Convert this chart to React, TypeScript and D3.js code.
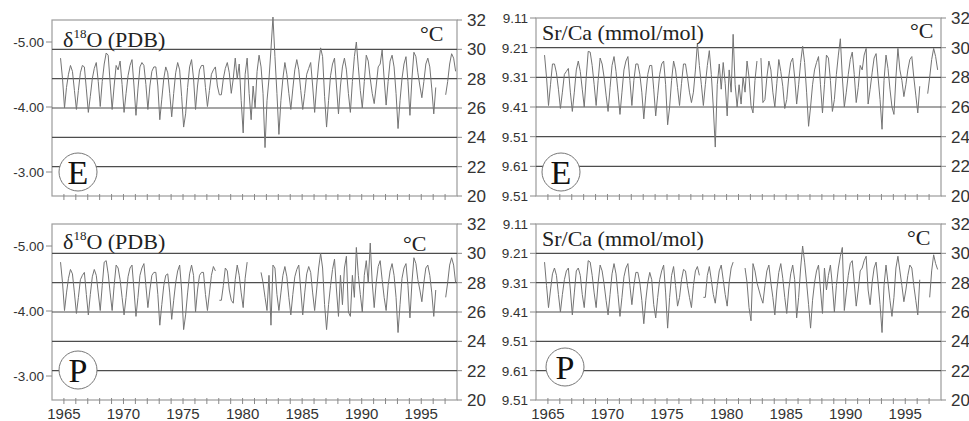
import React, { useEffect, useRef } from "react";
import * as d3 from "d3";

// axis labels
const yearTicks = [1965, 1970, 1975, 1980, 1985, 1990, 1995];
const tempTicks = [32, 30, 28, 26, 24, 22, 20];
const gridTemps = [30, 28, 26, 24, 22];
const d18oTicks = [-5, -4, -3];
const srTickValues = [9.11, 9.21, 9.31, 9.41, 9.51, 9.61, 9.71];
const srTickLabels = ["9.11", "9.21", "9.31", "9.41", "9.51", "9.61", "9.51"];

const firstYear = 1964;

const eD18O = [
  null, null, null, null, 29.4, 28.0,
  26.0, 27.4, 28.3, 28.9, 28.5, 27.2,
  25.9, 27.2, 28.4, 28.9, 28.8, 27.3,
  25.7, 26.8, 28.0, 28.7, 29.1, 27.8,
  26.1, 27.8, 29.0, 29.75, 29.6, 27.7,
  25.9, 27.5, 28.9, 28.6, 29.2, 27.6,
  25.7, 27.0, 28.2, 28.9, 29.3, 27.5,
  25.5, 27.3, 28.8, 29.1, 28.9, 27.6,
  25.9, 27.5, 28.5, 28.8, 28.8, 27.5,
  25.2, 26.6, 28.0, 28.8, 28.4, 27.0,
  25.4, 27.0, 28.4, 29.1, 28.6, 26.8,
  24.7, 25.6, 27.4, 28.8, 29.3, 28.0,
  25.9, 27.5, 28.6, 28.9, 28.9, 27.4,
  26.1, 27.2, 28.3, 28.6, 28.8, 27.5,
  26.9, 26.9, 28.0, 28.7, 29.1, 28.4,
  27.0, 28.0, 29.4, 28.0, 29.0, 26.5,
  24.3, 28.3, 29.4, 27.0, 25.2, 27.5,
  26.0, 28.5, 29.6, 28.8, 27.0, 23.3,
  26.5, 28.0, 30.0, 32.2, 29.5, 27.0,
  24.2, 26.5, 28.0, 29.1, 28.3, 27.0,
  25.9, 27.3, 28.6, 29.3, 28.6, 27.2,
  25.9, 27.0, 28.3, 28.7, 29.1, 27.5,
  25.7, 27.5, 29.0, 30.1, 29.5, 26.8,
  24.7, 26.5, 28.2, 29.0, 29.4, 27.5,
  25.6, 27.5, 28.8, 29.4, 28.6, 27.0,
  25.7, 27.8, 29.5, 30.5, 28.8, 27.2,
  26.0, 27.8, 29.6, 29.2, 28.0, 27.0,
  26.3, 27.5, 28.8, 29.0, 29.95, 28.0,
  26.2, 27.8, 29.2, 29.6, 28.8, 27.0,
  24.6, 26.5, 28.0, 29.0, 29.5, 27.8,
  25.5, 28.0, 29.8, 29.5, 28.4, 27.5,
  26.7, 27.8, 29.0, 29.4, 28.8, 27.3,
  25.6, 27.4, null, null, null, null,
  26.9, 27.8, 29.0, 29.7, 29.4, 28.5,
];

const eSrCa = [
  null, null, null, null, 29.5, 28.0,
  26.1, 27.5, 28.9, 28.9, 28.3, 27.2,
  25.9, 27.0, 28.2, 28.4, 28.6, 27.0,
  25.7, 27.0, 28.5, 29.1, 28.4, 27.2,
  26.0, 28.0, 29.75, 29.7, 28.8, 27.5,
  26.1, 27.8, 29.3, 28.9, 28.0, 26.8,
  25.7, 27.3, 28.8, 29.4, 28.4, 27.0,
  25.5, 27.0, 28.5, 29.1, 29.4, 27.8,
  26.1, 27.8, 28.9, 28.9, 28.2, 27.0,
  25.2, 26.8, 28.2, 28.8, 28.8, 27.2,
  25.4, 26.8, 28.2, 28.9, 29.1, 27.5,
  24.8, 26.0, 27.8, 29.1, 28.5, 27.3,
  26.1, 27.6, 28.9, 28.9, 28.0, 27.0,
  26.3, 27.0, 28.5, 30.3, 28.8, 27.5,
  26.1, 27.5, 28.8, 29.8, 28.2, 26.0,
  23.3, 27.5, 28.9, 27.2, 29.0, 27.6,
  25.4, 28.5, 27.0, 30.9, 27.5, 26.0,
  27.5, 26.2, 28.0, 27.0, 29.1, 28.0,
  26.1, 25.6, 27.8, 29.1, null, 29.3,
  26.3, 26.5, 28.0, 29.1, 28.5, 27.0,
  26.0, 27.6, 29.2, 28.4, 27.4, 25.9,
  26.5, 28.0, 29.0, 29.3, 28.0, 26.2,
  27.5, 29.0, 30.1, 29.0, 27.0, 24.7,
  26.0, 27.5, 28.5, 29.0, 29.4, 27.5,
  25.6, 27.5, 29.5, 29.3, 27.8, 25.7,
  26.5, 28.2, 29.5, 30.6, 28.0, 26.0,
  27.0, 28.2, 29.2, 29.7, 28.2, 26.3,
  27.3, 28.8, 28.5, 29.5, 29.95, 26.2,
  27.2, 28.3, 29.3, 29.6, 28.0, 26.5,
  24.5, 27.8, 29.5, 28.6, 27.2, 26.0,
  25.5, 28.0, 29.95, 28.5, 27.8, 26.7,
  27.5, 28.5, 29.2, 29.4, 28.0, 26.8,
  25.6, 27.4, null, null, null, 26.9,
  28.0, 29.2, 29.95, 29.4, 28.5, null,
];

const pD18O = [
  null, null, null, null, 29.4, 28.0,
  26.1, 27.3, 28.3, 28.9, 28.6, 27.3,
  25.9, 27.0, 28.2, 28.5, 28.7, 27.2,
  25.8, 27.2, 28.4, 28.9, 28.5, 27.3,
  26.1, 27.8, 29.4, 29.5, 28.6, 27.3,
  26.1, 27.8, 29.2, 29.0, 28.2, 27.0,
  25.8, 27.0, 28.4, 29.0, 29.2, 27.5,
  25.7, 27.0, 28.5, 29.0, 29.3, 27.8,
  26.3, 27.5, 28.5, 28.7, 28.7, 27.2,
  25.1, 26.5, 27.8, 28.5, 28.6, 27.3,
  25.5, 26.8, 28.0, 28.8, 29.2, 27.5,
  24.8, 25.8, 27.3, 28.6, 29.2, 28.5,
  26.0, 27.5, 28.5, 28.7, 28.7, 27.2,
  26.1, 27.3, 28.5, 29.1, 28.8, null,
  26.8, 26.8, 27.8, 29.0, 28.8, 27.5,
  26.8, 26.6, 28.2, 29.2, 28.5, 27.3,
  26.3, 28.3, 29.4, null, null, null,
  null, null, null, 28.7, 28.0, 27.0,
  26.1, 28.5, 25.1, 29.2, 29.0, 27.2,
  26.1, 27.3, 28.5, 29.1, 28.4, 27.0,
  25.8, 27.2, 28.4, 28.9, 29.2, 27.5,
  25.8, 27.3, 28.6, 29.1, 28.7, 27.3,
  26.1, 27.5, 29.0, 30.0, 29.0, 26.5,
  24.8, 26.5, 27.8, 28.9, 29.6, 27.5,
  25.7, 28.5, 26.5, 29.0, 29.8, 26.0,
  25.7, 28.5, 27.0, 30.4, 28.5, 27.2,
  26.0, 28.5, 29.5, 28.0, 30.7, 28.0,
  26.3, 28.0, 29.1, 29.5, 28.2, 27.0,
  26.1, 27.8, 28.8, 29.3, 28.5, 27.0,
  24.6, 26.5, 28.3, 29.0, 29.3, 27.8,
  25.6, 28.0, 29.7, 29.3, 28.2, 27.5,
  26.7, 28.0, 29.0, 29.2, 28.5, 27.3,
  25.7, 27.5, null, null, null, null,
  27.0, 28.0, 29.2, 29.7, 29.2, 28.0,
];

const pSrCa = [
  null, null, null, null, 29.4, 27.8,
  26.3, 27.5, 28.6, 29.0, 28.5, 27.2,
  26.0, 27.2, 28.2, 28.8, 29.0, 27.5,
  25.8, 27.3, 28.8, 29.0, 28.5, 27.2,
  26.3, 28.0, 29.5, 29.4, 28.5, 27.3,
  26.3, 28.0, 29.2, 28.8, 27.9, 26.8,
  25.8, 27.2, 28.6, 29.3, 28.6, 27.2,
  25.7, 27.0, 28.4, 29.0, 29.3, 27.8,
  26.5, 27.8, 28.7, 28.7, 28.0, 26.8,
  25.2, 26.8, 28.0, 28.7, 28.2, 26.5,
  25.6, 27.0, 28.2, 28.8, 29.2, 27.3,
  24.9, 27.0, 28.5, 29.1, 27.8, 26.4,
  27.0, 28.2, 28.9, 28.8, 27.8, 27.0,
  26.3, 27.8, 28.8, 29.1, 28.5, null,
  27.0, 27.0, 28.5, 29.1, 28.2, 27.2,
  26.6, 27.8, 28.8, 29.2, 28.2, 27.2,
  26.4, 28.0, 29.0, 29.4, null, null,
  null, null, null, 29.0, 28.0, 26.3,
  25.4, 29.3, 28.8, 28.0, 27.5, 27.0,
  26.6, 27.8, 28.8, 29.2, 28.0, 27.0,
  25.8, 27.5, 28.7, 29.3, 28.3, 27.0,
  25.9, 27.5, 28.6, 29.2, 28.2, 25.6,
  27.0, 29.0, 30.5, 29.4, 28.0, 26.5,
  24.9, 26.8, 28.0, 28.8, 29.2, 27.5,
  25.9, 29.0, 27.5, 28.5, 29.2, 27.8,
  26.0, 27.8, 29.0, 29.8, 30.4, 26.1,
  27.3, 28.5, 29.3, 29.5, 28.0, 26.4,
  27.5, 28.8, 29.0, 29.5, 29.8, 27.5,
  26.5, 28.0, 29.0, 29.4, 28.0, 26.5,
  24.6, 27.8, 29.2, 28.0, 26.8, 25.7,
  27.0, 29.0, 29.8, 28.8, 27.8, 26.7,
  27.5, 28.5, 29.2, 29.0, 27.8, 26.8,
  25.8, 28.2, null, null, null, null,
  27.0, 28.8, 29.9, 29.3, 28.9, null,
];

const panels = [
  { x: 52, y: 20, h: 176, kind: "d18o", site: "E", data: eD18O, years: false, titleY: 27, degX: 368, degY: 21, cx: 26, cy: 152 },
  { x: 536, y: 18, h: 178, kind: "srca", site: "E", data: eSrCa, years: false, titleY: 22, degX: 374, degY: 20, cx: 25, cy: 154 },
  { x: 52, y: 224, h: 176, kind: "d18o", site: "P", data: pD18O, years: true, titleY: 25, degX: 351, degY: 27, cx: 26, cy: 146 },
  { x: 536, y: 224, h: 176, kind: "srca", site: "P", data: pSrCa, years: true, titleY: 22, degX: 371, degY: 21, cx: 29, cy: 143 },
];

const W = 405;
const sans = "'Liberation Sans', Arial, sans-serif";
const serif = "'Liberation Serif', 'Times New Roman', serif";

export default function App() {
  const ref = useRef<SVGSVGElement>(null);

  useEffect(() => {
    const svg = d3.select(ref.current);
    svg.selectAll("*").remove();

    panels.forEach((p) => {
      const g = svg.append("g").attr("transform", `translate(${p.x},${p.y})`);
      const x = d3.scaleLinear().domain([1964, 1998]).range([0, W]);
      const yT = d3.scaleLinear().domain([20, 32]).range([p.h, 0]);
      const yD = d3.scaleLinear().domain([-5, -3]).range([22, 152]);
      const yS = d3.scaleLinear().domain([9.11, 9.71]).range([0, p.h]);

      // frame
      g.append("rect")
        .attr("width", W)
        .attr("height", p.h)
        .attr("fill", "none")
        .attr("stroke", "#9c9c9c")
        .attr("stroke-width", 1.2);

      // gridlines
      g.selectAll(".grid")
        .data(gridTemps)
        .enter()
        .append("line")
        .attr("x1", 0)
        .attr("x2", W)
        .attr("y1", (d) => yT(d))
        .attr("y2", (d) => yT(d))
        .attr("stroke", "#4d4d4d")
        .attr("stroke-width", 1.1);

      // series
      const pts = p.data.map((v, i) => ({
        t: firstYear + Math.floor(i / 6) + 0.05 + (i % 6) / 6,
        v,
      }));
      const line = d3
        .line<{ t: number; v: number | null }>()
        .defined((d) => d.v != null)
        .x((d) => x(d.t))
        .y((d) => yT(d.v as number));
      g.append("path")
        .attr("d", line(pts))
        .attr("fill", "none")
        .attr("stroke", "#747474")
        .attr("stroke-width", 1);

      // right axis (°C)
      g.selectAll(".rt")
        .data(tempTicks)
        .enter()
        .append("line")
        .attr("x1", W)
        .attr("x2", W + 5)
        .attr("y1", (d) => yT(d))
        .attr("y2", (d) => yT(d))
        .attr("stroke", "#888");
      g.selectAll(".rl")
        .data(tempTicks)
        .enter()
        .append("text")
        .attr("x", W + 10)
        .attr("y", (d) => yT(d) + 6)
        .attr("font-family", sans)
        .attr("font-size", 17)
        .attr("fill", "#333")
        .text((d) => d);

      // left axis
      if (p.kind === "d18o") {
        g.selectAll(".lt")
          .data(d18oTicks)
          .enter()
          .append("line")
          .attr("x1", -6)
          .attr("x2", 0)
          .attr("y1", (d) => yD(d))
          .attr("y2", (d) => yD(d))
          .attr("stroke", "#888");
        g.selectAll(".ll")
          .data(d18oTicks)
          .enter()
          .append("text")
          .attr("x", -8)
          .attr("y", (d) => yD(d) + 5)
          .attr("text-anchor", "end")
          .attr("font-family", sans)
          .attr("font-size", 13.5)
          .attr("fill", "#333")
          .text((d) => d.toFixed(2));
      } else {
        g.selectAll(".lt")
          .data(srTickValues)
          .enter()
          .append("line")
          .attr("x1", -6)
          .attr("x2", 0)
          .attr("y1", (d) => yS(d))
          .attr("y2", (d) => yS(d))
          .attr("stroke", "#888");
        g.selectAll(".ll")
          .data(srTickValues)
          .enter()
          .append("text")
          .attr("x", -8)
          .attr("y", (d) => yS(d) + 5)
          .attr("text-anchor", "end")
          .attr("font-family", sans)
          .attr("font-size", 13.5)
          .attr("fill", "#333")
          .text((d, i) => srTickLabels[i]);
      }

      // bottom ticks
      g.selectAll(".bt")
        .data(d3.range(1965, 1998))
        .enter()
        .append("line")
        .attr("x1", (d) => x(d))
        .attr("x2", (d) => x(d))
        .attr("y1", p.h - 2)
        .attr("y2", p.h + 4)
        .attr("stroke", "#888");
      if (p.years) {
        g.selectAll(".bl")
          .data(yearTicks)
          .enter()
          .append("text")
          .attr("x", (d) => x(d))
          .attr("y", p.h + 19)
          .attr("text-anchor", "middle")
          .attr("font-family", sans)
          .attr("font-size", 15)
          .attr("fill", "#333")
          .text((d) => d);
      }

      // title
      const title = g
        .append("text")
        .attr("y", p.titleY)
        .attr("font-family", serif)
        .attr("font-size", 22)
        .attr("fill", "#222");
      if (p.kind === "d18o") {
        title.attr("x", 11);
        title.append("tspan").text("δ");
        title.append("tspan").attr("font-size", 13).attr("dy", -9).text("18");
        title.append("tspan").attr("dy", 9).text("O (PDB)");
      } else {
        title.attr("x", 6).text("Sr/Ca (mmol/mol)");
      }
      g.append("text")
        .attr("x", p.degX)
        .attr("y", p.degY)
        .attr("font-family", serif)
        .attr("font-size", 22)
        .attr("fill", "#222")
        .text("°C");

      // site marker
      g.append("circle")
        .attr("cx", p.cx)
        .attr("cy", p.cy)
        .attr("r", 19)
        .attr("fill", "#fff")
        .attr("stroke", "#777")
        .attr("stroke-width", 1);
      g.append("text")
        .attr("x", p.cx)
        .attr("y", p.cy + 12)
        .attr("text-anchor", "middle")
        .attr("font-family", serif)
        .attr("font-size", 34)
        .attr("fill", "#111")
        .text(p.site);
    });
  }, []);

  return (
    <svg
      ref={ref}
      width={969}
      height={421}
      style={{ position: "absolute", left: 0, top: 0, background: "#fff" }}
    />
  );
}
